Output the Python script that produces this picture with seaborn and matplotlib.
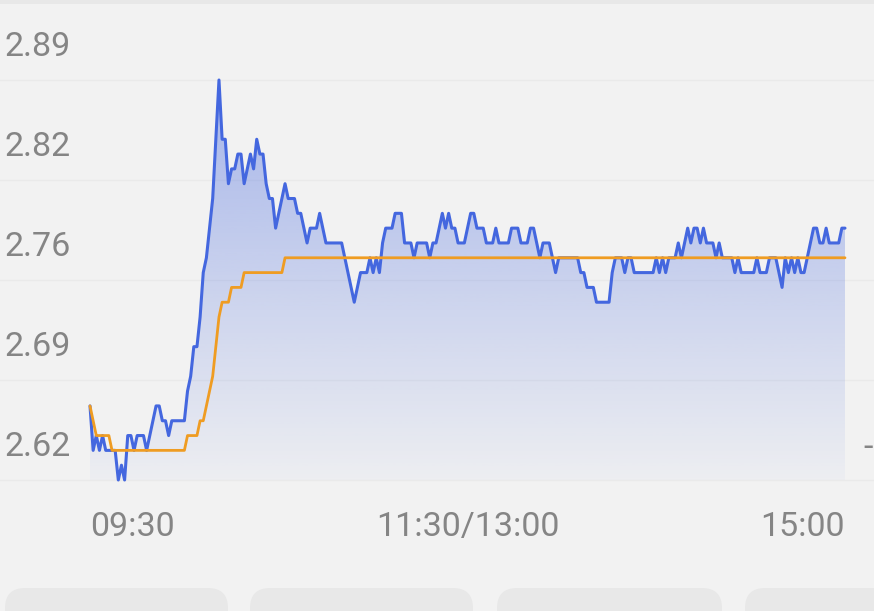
import numpy as np
import pandas as pd
import seaborn as sns
import matplotlib.pyplot as plt
from matplotlib.colors import to_rgb
from matplotlib.patches import Rectangle, FancyBboxPatch
from matplotlib.transforms import offset_copy, blended_transform_factory

# intraday price, one value per minute (09:30-11:30, 13:00-15:00)
price = [
    2.67, 2.64, 2.65, 2.64, 2.65, 2.64, 2.64, 2.64, 2.64, 2.62,
    2.63, 2.62, 2.65, 2.65, 2.64, 2.65, 2.65, 2.65, 2.64, 2.65,
    2.66, 2.67, 2.67, 2.66, 2.66, 2.65, 2.66, 2.66, 2.66, 2.66,
    2.66, 2.68, 2.69, 2.71, 2.71, 2.73, 2.76, 2.77, 2.79, 2.81,
    2.85, 2.89, 2.85, 2.85, 2.82, 2.83, 2.83, 2.84, 2.84, 2.82,
    2.83, 2.84, 2.83, 2.85, 2.84, 2.84, 2.82, 2.81, 2.81, 2.79,
    2.80, 2.81, 2.82, 2.81, 2.81, 2.81, 2.80, 2.80, 2.79, 2.78,
    2.79, 2.79, 2.79, 2.80, 2.79, 2.78, 2.78, 2.78, 2.78, 2.78,
    2.78, 2.77, 2.76, 2.75, 2.74, 2.75, 2.76, 2.76, 2.76, 2.77,
    2.76, 2.77, 2.76, 2.78, 2.79, 2.79, 2.79, 2.80, 2.80, 2.80,
    2.78, 2.78, 2.78, 2.77, 2.78, 2.78, 2.78, 2.78, 2.77, 2.78,
    2.78, 2.79, 2.80, 2.79, 2.80, 2.79, 2.79, 2.78, 2.78, 2.78,
    2.79, 2.80, 2.80, 2.79, 2.79, 2.79, 2.78, 2.78, 2.78, 2.79,
    2.78, 2.78, 2.78, 2.78, 2.79, 2.79, 2.79, 2.78, 2.78, 2.78,
    2.79, 2.79, 2.78, 2.77, 2.78, 2.78, 2.78, 2.77, 2.76, 2.77,
    2.77, 2.77, 2.77, 2.77, 2.77, 2.77, 2.76, 2.76, 2.75, 2.75,
    2.75, 2.74, 2.74, 2.74, 2.74, 2.74, 2.76, 2.77, 2.77, 2.77,
    2.76, 2.77, 2.77, 2.76, 2.76, 2.76, 2.76, 2.76, 2.76, 2.76,
    2.77, 2.76, 2.77, 2.76, 2.77, 2.77, 2.77, 2.78, 2.77, 2.78,
    2.79, 2.78, 2.79, 2.79, 2.78, 2.79, 2.78, 2.78, 2.78, 2.77,
    2.78, 2.77, 2.77, 2.77, 2.77, 2.76, 2.77, 2.76, 2.76, 2.76,
    2.76, 2.76, 2.77, 2.76, 2.76, 2.76, 2.77, 2.77, 2.77, 2.76,
    2.75, 2.77, 2.76, 2.77, 2.76, 2.77, 2.76, 2.76, 2.77, 2.78,
    2.79, 2.79, 2.78, 2.78, 2.79, 2.78, 2.78, 2.78, 2.78, 2.79,
    2.79,
]

# running average price
avg_price = [
    2.67, 2.66, 2.65, 2.65, 2.65, 2.65, 2.65, 2.64, 2.64, 2.64,
    2.64, 2.64, 2.64, 2.64, 2.64, 2.64, 2.64, 2.64, 2.64, 2.64,
    2.64, 2.64, 2.64, 2.64, 2.64, 2.64, 2.64, 2.64, 2.64, 2.64,
    2.64, 2.65, 2.65, 2.65, 2.65, 2.66, 2.66, 2.67, 2.68, 2.69,
    2.71, 2.73, 2.74, 2.74, 2.74, 2.75, 2.75, 2.75, 2.75, 2.76,
    2.76, 2.76, 2.76, 2.76, 2.76, 2.76, 2.76, 2.76, 2.76, 2.76,
    2.76, 2.76, 2.77, 2.77, 2.77, 2.77, 2.77, 2.77, 2.77, 2.77,
    2.77, 2.77, 2.77, 2.77, 2.77, 2.77, 2.77, 2.77, 2.77, 2.77,
    2.77, 2.77, 2.77, 2.77, 2.77, 2.77, 2.77, 2.77, 2.77, 2.77,
    2.77, 2.77, 2.77, 2.77, 2.77, 2.77, 2.77, 2.77, 2.77, 2.77,
    2.77, 2.77, 2.77, 2.77, 2.77, 2.77, 2.77, 2.77, 2.77, 2.77,
    2.77, 2.77, 2.77, 2.77, 2.77, 2.77, 2.77, 2.77, 2.77, 2.77,
    2.77, 2.77, 2.77, 2.77, 2.77, 2.77, 2.77, 2.77, 2.77, 2.77,
    2.77, 2.77, 2.77, 2.77, 2.77, 2.77, 2.77, 2.77, 2.77, 2.77,
    2.77, 2.77, 2.77, 2.77, 2.77, 2.77, 2.77, 2.77, 2.77, 2.77,
    2.77, 2.77, 2.77, 2.77, 2.77, 2.77, 2.77, 2.77, 2.77, 2.77,
    2.77, 2.77, 2.77, 2.77, 2.77, 2.77, 2.77, 2.77, 2.77, 2.77,
    2.77, 2.77, 2.77, 2.77, 2.77, 2.77, 2.77, 2.77, 2.77, 2.77,
    2.77, 2.77, 2.77, 2.77, 2.77, 2.77, 2.77, 2.77, 2.77, 2.77,
    2.77, 2.77, 2.77, 2.77, 2.77, 2.77, 2.77, 2.77, 2.77, 2.77,
    2.77, 2.77, 2.77, 2.77, 2.77, 2.77, 2.77, 2.77, 2.77, 2.77,
    2.77, 2.77, 2.77, 2.77, 2.77, 2.77, 2.77, 2.77, 2.77, 2.77,
    2.77, 2.77, 2.77, 2.77, 2.77, 2.77, 2.77, 2.77, 2.77, 2.77,
    2.77, 2.77, 2.77, 2.77, 2.77, 2.77, 2.77, 2.77, 2.77, 2.77,
    2.77,
]

y_ticks = [2.62, 2.6875, 2.755, 2.8225, 2.89]
y_tick_labels = ['2.62', '2.69', '2.76', '2.82', '2.89']
x_tick_pos = [0, 120, 240]
x_tick_labels = ['09:30', '11:30/13:00', '15:00']

df = pd.DataFrame({'minute': np.arange(len(price)), 'price': price, 'avg': avg_price})

BG = '#f2f2f2'
BLUE = '#4467df'
ORANGE = '#ef9c22'
TEXT = '#858585'

sns.set_style('white', {'axes.facecolor': BG, 'figure.facecolor': BG})
plt.rcParams['font.family'] = ['Roboto', 'DejaVu Sans']

W, H = 874, 611
fig = plt.figure(figsize=(W / 100, H / 100), dpi=100)
fig.patch.set_facecolor(BG)
ax = fig.add_axes([90 / W, (H - 480) / H, 755 / W, 400 / H])
ax.set_facecolor(BG)
for s in ax.spines.values():
    s.set_visible(False)

ymin, ymax = y_ticks[0], y_ticks[-1]
xmax = df['minute'].iloc[-1]

# faint gridlines across the whole width
for v in y_ticks:
    ax.axhline(v, xmin=-90 / 755, xmax=(W - 90) / 755, color='#eaeaea',
               linewidth=1, zorder=0, clip_on=False)

# gradient area under price line
poly = ax.fill_between(df['minute'], df['price'], ymin, color='none', zorder=1)
alpha = np.linspace(0.44, 0.03, 256)
grad = np.zeros((256, 1, 4))
grad[..., :3] = to_rgb(BLUE)
grad[:, 0, 3] = alpha
img = ax.imshow(grad, extent=[0, xmax, ymin, ymax], aspect='auto',
                origin='upper', zorder=1, interpolation='bicubic')
img.set_clip_path(poly.get_paths()[0], transform=ax.transData)

sns.lineplot(data=df, x='minute', y='price', ax=ax, color=BLUE, linewidth=2.2, zorder=3)
sns.lineplot(data=df, x='minute', y='avg', ax=ax, color=ORANGE, linewidth=2.0, zorder=4)
for ln in ax.get_lines():
    ln.set_clip_on(False)

ax.set_xlim(0, xmax)
ax.set_ylim(ymin, ymax)
ax.set_xticks([])
ax.set_yticks([])
ax.set_xlabel('')
ax.set_ylabel('')

# y labels sit above their gridlines
ytrans = offset_copy(blended_transform_factory(fig.transFigure, ax.transData),
                     fig=fig, x=0, y=33, units='dots')
for v, lab in zip(y_ticks, y_tick_labels):
    ax.text(5 / W, v, lab, transform=ytrans, ha='left', va='center',
            fontsize=24.5, color=TEXT)

xtrans = offset_copy(blended_transform_factory(ax.transData, ax.transAxes),
                     fig=fig, x=0, y=-47, units='dots')
for pos, lab, ha in zip(x_tick_pos, x_tick_labels, ['left', 'center', 'right']):
    ax.text(pos, 0, lab, transform=xtrans, ha=ha, va='center',
            fontsize=24.5, color=TEXT)

# cut-off right-hand label
fig.text(863 / W, 1 - 448 / H, '-', ha='left', va='center', fontsize=24.5, color=TEXT)

# card edges at top and bottom of the screenshot
fig.patches.append(Rectangle((0, 1 - 4 / H), 1, 4 / H, transform=fig.transFigure,
                             facecolor='#e8e8e8', edgecolor='none'))
for x0, x1 in [(5, 228), (250, 473), (497, 722), (745, 900)]:
    fig.patches.append(FancyBboxPatch((x0 / 100, -0.3), (x1 - x0) / 100, (H - 588) / 100 + 0.3,
                                      boxstyle='round,pad=0,rounding_size=0.2',
                                      transform=fig.dpi_scale_trans,
                                      facecolor='#e8e8e8', edgecolor='none'))

fig.savefig('out.png', dpi=100, facecolor=BG)
